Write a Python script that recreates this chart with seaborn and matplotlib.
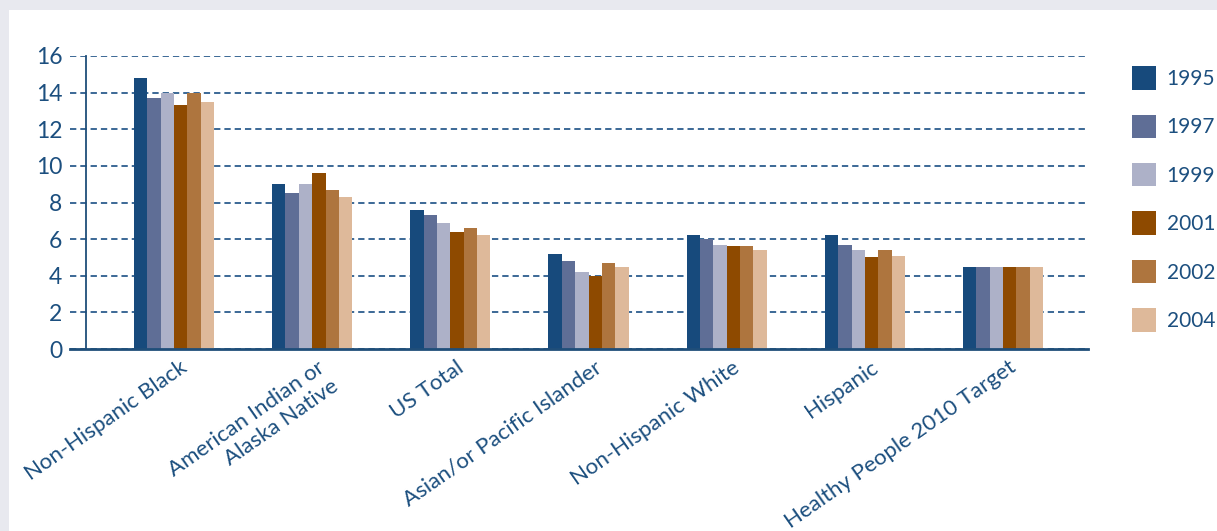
import matplotlib
matplotlib.use("Agg")
import matplotlib.pyplot as plt
import matplotlib.transforms as mtransforms
from matplotlib.patches import Rectangle
import seaborn as sns
import pandas as pd

# ---- data ----
categories = ["Non-Hispanic Black", "American Indian or\nAlaska Native", "US Total",
              "Asian/or Pacific Islander", "Non-Hispanic White", "Hispanic",
              "Healthy People 2010 Target"]
years = ["1995", "1997", "1999", "2001", "2002", "2004"]
v1995 = [14.8, 9.0, 7.6, 5.2, 6.2, 6.2, 4.5]
v1997 = [13.7, 8.5, 7.3, 4.8, 6.0, 5.7, 4.5]
v1999 = [14.0, 9.0, 6.9, 4.2, 5.7, 5.4, 4.5]
v2001 = [13.3, 9.6, 6.4, 4.0, 5.6, 5.0, 4.5]
v2002 = [14.0, 8.7, 6.6, 4.7, 5.6, 5.4, 4.5]
v2004 = [13.5, 8.3, 6.2, 4.5, 5.4, 5.1, 4.5]
y_ticks = [0, 2, 4, 6, 8, 10, 12, 14, 16]

colors = ["#174a7c", "#5f6e96", "#adb1c8", "#8e4a00", "#ae753e", "#deb99a"]
text_color = "#1c4f7f"

series = [v1995, v1997, v1999, v2001, v2002, v2004]
rows = []
for yr, vals in zip(years, series):
    for cat, v in zip(categories, vals):
        rows.append({"category": cat, "year": yr, "value": v})
df = pd.DataFrame(rows)

sns.set_theme(style="white")
plt.rcParams["font.family"] = ["Lato", "DejaVu Sans"]

W, H = 1217, 531
fig = plt.figure(figsize=(W / 100, H / 100), dpi=100)
fig.patch.set_facecolor("#e8e9ef")
fig.patches.append(Rectangle((9 / W, 0), 1, (H - 10) / H, transform=fig.transFigure,
                             facecolor="white", edgecolor="none", zorder=-5))

ax = fig.add_axes([70 / W, (H - 349) / H, (1088 - 70) / W, (349 - 56) / H])
ax.set_facecolor("none")

sns.barplot(data=df, x="category", y="value", hue="year", order=categories,
            hue_order=years, palette=colors, width=0.58, saturation=1,
            linewidth=0, ax=ax, legend=True)

ax.set_xlim(-0.753, 6.615)
ax.set_ylim(0, 16)
ax.set_yticks(y_ticks)
ax.set_xlabel("")
ax.set_ylabel("")

ax.set_axisbelow(True)
ax.yaxis.grid(True, color="#2c5d8e", linestyle=(0, (3.5, 2.2)), linewidth=1.3)
ax.xaxis.grid(False)

for s in ["top", "right"]:
    ax.spines[s].set_visible(False)
ax.spines["bottom"].set_color("#1f4e79")
ax.spines["bottom"].set_linewidth(2.0)
ax.spines["left"].set_color("#1f4e79")
ax.spines["left"].set_linewidth(1.3)
ax.spines["left"].set_position(("axes", 16 / 1018))

ax.tick_params(axis="y", length=0, pad=17, labelsize=16.5, labelcolor=text_color)
ax.tick_params(axis="x", length=0, pad=6, labelsize=16, labelcolor=text_color)
ax.set_yticklabels([str(t) for t in y_ticks])

offset = mtransforms.ScaledTranslation(5 / 100, 0, fig.dpi_scale_trans)
ax.set_xticks(range(len(categories)))
ax.set_xticklabels(categories)
for lbl in ax.get_xticklabels():
    lbl.set_rotation(35)
    lbl.set_rotation_mode("anchor")
    lbl.set_horizontalalignment("right")
    lbl.set_verticalalignment("top")
    lbl.set_transform(lbl.get_transform() + offset)

handles, labels = ax.get_legend_handles_labels()
ax.get_legend().remove()
leg = fig.legend(handles, labels, loc="upper left",
                 bbox_to_anchor=(1124 / W, (H - 58) / H),
                 frameon=False, fontsize=15, handlelength=1.15, handleheight=1.35,
                 handletextpad=0.5, labelspacing=1.2, borderaxespad=0)
for t in leg.get_texts():
    t.set_color(text_color)

fig.savefig("out.png", dpi=100, facecolor=fig.get_facecolor())
